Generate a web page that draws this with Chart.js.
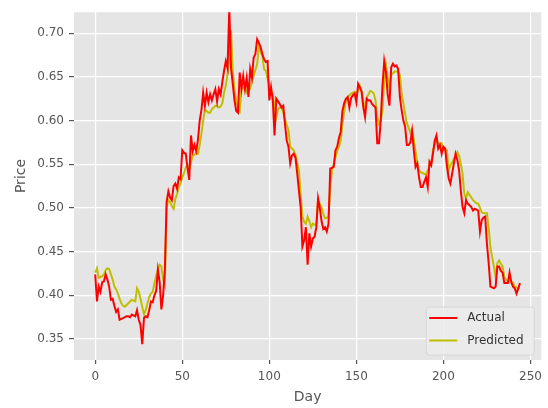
<!DOCTYPE html>
<html>
<head>
<meta charset="utf-8">
<script src="https://cdn.jsdelivr.net/npm/chart.js@4.4.0/dist/chart.umd.min.js"></script>
<style>
  html, body { margin: 0; padding: 0; background: #fff; }
</style>
</head>
<body>
<canvas id="graphic" width="548" height="408"></canvas>
<script>
// day index 0..244
const days = Array.from({ length: 245 }, (_, i) => i);

const actualPrice = [
  0.424, 0.393, 0.410, 0.404, 0.415, 0.416, 0.424, 0.418, 0.410, 0.395,
  0.396, 0.388, 0.381, 0.384, 0.372, 0.373, 0.374, 0.375, 0.376, 0.376,
  0.375, 0.378, 0.377, 0.376, 0.383, 0.372, 0.366, 0.344, 0.374, 0.376,
  0.375, 0.383, 0.393, 0.392, 0.400, 0.405, 0.429, 0.415, 0.384, 0.400,
  0.430, 0.507, 0.519, 0.512, 0.509, 0.525, 0.528, 0.522, 0.535, 0.533,
  0.566, 0.563, 0.562, 0.546, 0.532, 0.583, 0.565, 0.572, 0.565, 0.578,
  0.600, 0.612, 0.632, 0.617, 0.632, 0.621, 0.630, 0.623, 0.630, 0.636,
  0.622, 0.636, 0.630, 0.644, 0.657, 0.668, 0.660, 0.728, 0.660, 0.642,
  0.623, 0.611, 0.609, 0.655, 0.636, 0.651, 0.636, 0.649, 0.627, 0.659,
  0.649, 0.672, 0.676, 0.693, 0.689, 0.684, 0.676, 0.670, 0.667, 0.668,
  0.623, 0.638, 0.623, 0.583, 0.625, 0.622, 0.619, 0.615, 0.617, 0.596,
  0.577, 0.570, 0.551, 0.560, 0.562, 0.558, 0.540, 0.520, 0.501, 0.456,
  0.463, 0.478, 0.435, 0.471, 0.456, 0.465, 0.467, 0.478, 0.511, 0.500,
  0.485, 0.476, 0.478, 0.473, 0.482, 0.545, 0.546, 0.547, 0.566, 0.570,
  0.580, 0.587, 0.611, 0.620, 0.625, 0.627, 0.615, 0.626, 0.629, 0.631,
  0.621, 0.642, 0.638, 0.633, 0.615, 0.604, 0.625, 0.623, 0.623, 0.619,
  0.617, 0.615, 0.574, 0.574, 0.600, 0.640, 0.668, 0.655, 0.630, 0.617,
  0.661, 0.665, 0.662, 0.663, 0.659, 0.627, 0.612, 0.600, 0.593, 0.572,
  0.572, 0.575, 0.588, 0.566, 0.547, 0.551, 0.535, 0.524, 0.524, 0.530,
  0.535, 0.524, 0.553, 0.549, 0.562, 0.577, 0.583, 0.568, 0.572, 0.562,
  0.570, 0.568, 0.548, 0.534, 0.528, 0.539, 0.551, 0.562, 0.555, 0.543,
  0.520, 0.501, 0.494, 0.509, 0.505, 0.503, 0.501, 0.497, 0.499, 0.498,
  0.497, 0.473, 0.486, 0.489, 0.490, 0.459, 0.437, 0.410, 0.409, 0.408,
  0.410, 0.433, 0.433, 0.428, 0.426, 0.414, 0.414, 0.414, 0.426, 0.415,
  0.410, 0.408, 0.402, 0.408, 0.414
];

const predictedPrice = [
  0.426, 0.431, 0.420, 0.421, 0.422, 0.424, 0.429, 0.431, 0.430, 0.424,
  0.418, 0.410, 0.407, 0.402, 0.396, 0.391, 0.388, 0.387, 0.389, 0.391,
  0.393, 0.395, 0.394, 0.393, 0.408, 0.404, 0.396, 0.387, 0.378, 0.383,
  0.391, 0.398, 0.402, 0.404, 0.414, 0.422, 0.430, 0.435, 0.433, 0.418,
  0.412, 0.501, 0.509, 0.507, 0.502, 0.499, 0.510, 0.516, 0.524, 0.528,
  0.535, 0.540, 0.546, 0.549, 0.545, 0.552, 0.560, 0.561, 0.563, 0.562,
  0.572, 0.585, 0.600, 0.612, 0.611, 0.609, 0.609, 0.613, 0.615, 0.617,
  0.617, 0.615, 0.616, 0.620, 0.632, 0.640, 0.653, 0.675, 0.704, 0.657,
  0.635, 0.623, 0.615, 0.611, 0.636, 0.637, 0.638, 0.632, 0.634, 0.636,
  0.645, 0.651, 0.658, 0.665, 0.684, 0.679, 0.674, 0.659, 0.657, 0.648,
  0.640, 0.634, 0.630, 0.615, 0.604, 0.613, 0.615, 0.615, 0.609, 0.601,
  0.595, 0.589, 0.570, 0.568, 0.566, 0.561, 0.552, 0.543, 0.516, 0.490,
  0.484, 0.482, 0.490, 0.485, 0.478, 0.482, 0.481, 0.480, 0.509, 0.505,
  0.501, 0.493, 0.488, 0.489, 0.490, 0.524, 0.543, 0.550, 0.558, 0.565,
  0.570, 0.577, 0.596, 0.610, 0.623, 0.627, 0.629, 0.631, 0.632, 0.633,
  0.629, 0.635, 0.640, 0.634, 0.622, 0.613, 0.627, 0.630, 0.634, 0.633,
  0.631, 0.623, 0.605, 0.596, 0.600, 0.611, 0.646, 0.664, 0.650, 0.637,
  0.652, 0.654, 0.656, 0.656, 0.656, 0.652, 0.631, 0.620, 0.608, 0.597,
  0.592, 0.586, 0.590, 0.578, 0.565, 0.551, 0.543, 0.541, 0.540, 0.539,
  0.538, 0.543, 0.547, 0.551, 0.566, 0.572, 0.578, 0.574, 0.574, 0.574,
  0.566, 0.566, 0.566, 0.543, 0.549, 0.552, 0.556, 0.560, 0.564, 0.560,
  0.550, 0.539, 0.516, 0.511, 0.518, 0.515, 0.512, 0.509, 0.507, 0.505,
  0.505, 0.500, 0.495, 0.494, 0.494, 0.494, 0.477, 0.455, 0.444, 0.433,
  0.421, 0.437, 0.440, 0.436, 0.433, 0.421, 0.418, 0.416, 0.416, 0.416,
  0.414, 0.410, 0.409, 0.408, 0.408
];

const xTicks = [0, 50, 100, 150, 200, 250];
const yTicks = [0.35, 0.40, 0.45, 0.50, 0.55, 0.60, 0.65, 0.70];

Chart.defaults.font.family = 'DejaVu Sans';

// grey panel behind the plot, like ggplot style
const panelBg = {
  id: 'panelBg',
  beforeDraw(chart) {
    const { ctx, chartArea: a } = chart;
    ctx.save();
    ctx.fillStyle = '#ffffff';
    ctx.fillRect(0, 0, chart.width, chart.height);
    ctx.fillStyle = '#e5e5e5';
    ctx.fillRect(a.left, a.top, a.right - a.left, a.bottom - a.top);
    ctx.restore();
  }
};

// y axis label, sits a bit above the panel centre in the original
const priceLabel = {
  id: 'priceLabel',
  afterDraw(chart) {
    const { ctx } = chart;
    ctx.save();
    ctx.translate(21, 176);
    ctx.rotate(-Math.PI / 2);
    ctx.font = '14px "DejaVu Sans"';
    ctx.fillStyle = '#555';
    ctx.textAlign = 'center';
    ctx.textBaseline = 'middle';
    ctx.fillText('Price', 0, 0);
    ctx.restore();
  }
};

// legend box in the lower right corner of the plot
const legendBox = {
  id: 'legendBox',
  afterDatasetsDraw(chart) {
    const { ctx, chartArea: a } = chart;
    const w = 108, h = 48;
    const x = a.right - 7 - w, y = a.bottom - 5 - h;
    ctx.save();
    ctx.beginPath();
    ctx.roundRect(x, y, w, h, 3);
    ctx.fillStyle = 'rgba(236,236,236,0.85)';
    ctx.fill();
    ctx.strokeStyle = '#d6d6d6';
    ctx.lineWidth = 1;
    ctx.stroke();
    ctx.font = '12px "DejaVu Sans"';
    ctx.textBaseline = 'middle';
    chart.data.datasets.forEach((ds, i) => {
      const ly = y + 11 + i * 22.5;
      ctx.beginPath();
      ctx.moveTo(x + 3, ly);
      ctx.lineTo(x + 31, ly);
      ctx.strokeStyle = ds.borderColor;
      ctx.lineWidth = 2;
      ctx.stroke();
      ctx.fillStyle = '#333';
      ctx.fillText(ds.label, x + 41, ly);
    });
    ctx.restore();
  }
};

const graphic = document.getElementById('graphic');

const graphicControler = new Chart(graphic, {
  type: 'line',
  data: {
    datasets: [
      {
        label: 'Actual',
        data: actualPrice.map((v, i) => ({ x: days[i], y: v })),
        borderColor: '#ff0000',
        borderWidth: 2,
        pointRadius: 0,
        tension: 0,
        fill: false,
      },
      {
        label: 'Predicted',
        data: predictedPrice.map((v, i) => ({ x: days[i], y: v })),
        borderColor: '#bfbf00',
        borderWidth: 2,
        pointRadius: 0,
        tension: 0,
        fill: false,
      },
    ],
  },
  options: {
    responsive: false,
    animation: false,
    devicePixelRatio: 1,
    layout: { padding: { top: 11, right: 4, left: 0, bottom: 0 } },
    plugins: {
      legend: { display: false },
      tooltip: { enabled: false },
    },
    scales: {
      x: {
        type: 'linear',
        min: -12.2,
        max: 256.2,
        afterBuildTicks: (s) => { s.ticks = xTicks.map((v) => ({ value: v })); },
        afterFit: (s) => { s.height = 48; },
        grid: { color: '#ffffff', lineWidth: 1.2, tickColor: '#555', tickLength: 4 },
        border: { display: false },
        ticks: { color: '#555', font: { size: 12 }, padding: 6, maxRotation: 0 },
        title: { display: true, text: 'Day', color: '#555', font: { size: 14 }, padding: { top: 0, bottom: 2 } },
      },
      y: {
        min: 0.326,
        max: 0.724,
        afterBuildTicks: (s) => { s.ticks = yTicks.map((v) => ({ value: v })); },
        afterFit: (s) => { s.width = 74; },
        grid: { color: '#ffffff', lineWidth: 1.2, tickColor: '#555', tickLength: 5 },
        border: { display: false },
        ticks: { color: '#555', font: { size: 12 }, padding: 5, callback: (v) => v.toFixed(2) },
        title: { display: false },
      },
    },
  },
  plugins: [panelBg, legendBox, priceLabel],
});
</script>
</body>
</html>
